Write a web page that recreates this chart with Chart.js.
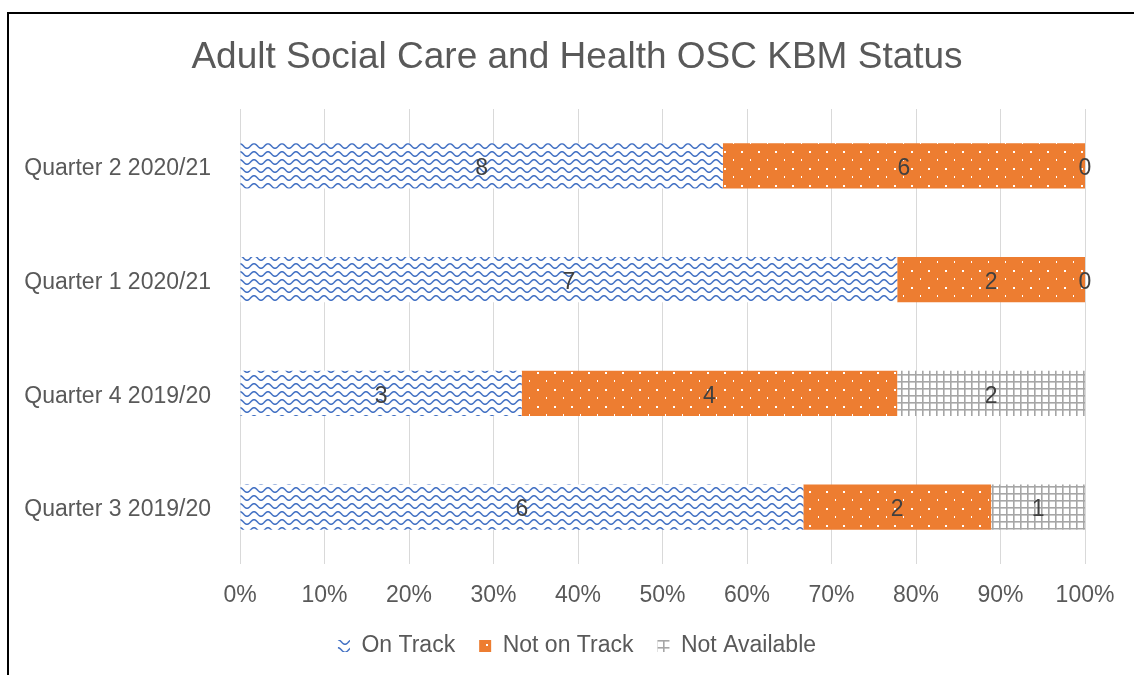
<!DOCTYPE html>
<html>
<head>
<meta charset="utf-8">
<script src="https://cdn.jsdelivr.net/npm/chart.js@4/dist/chart.umd.min.js"></script>
<style>
  html, body { margin: 0; padding: 0; background: #fff; overflow: hidden; }
  #frame { position: absolute; left: 7px; top: 12px; width: 1200px; height: 700px;
           border-left: 2px solid #000; border-top: 2px solid #000; }
  #wrap { position: absolute; left: 0; top: 0; width: 1136px; height: 661px; }
</style>
</head>
<body>
<div id="frame"><div id="wrap"><canvas id="c"></canvas></div></div>
<script>
const categories = ['Quarter 2 2020/21', 'Quarter 1 2020/21', 'Quarter 4 2019/20', 'Quarter 3 2019/20'];
const seriesNames = ['On Track', 'Not on Track', 'Not Available'];
const onTrack = [8, 7, 3, 6];
const notOnTrack = [6, 2, 4, 2];
const notAvailable = [0, 0, 2, 1];
const xTicks = [0, 10, 20, 30, 40, 50, 60, 70, 80, 90, 100];
const titleText = 'Adult Social Care and Health OSC KBM Status';

const counts = [onTrack, notOnTrack, notAvailable];
const totals = categories.map((_, j) => counts.reduce((s, arr) => s + arr[j], 0));
const pct = arr => arr.map((v, j) => v / totals[j] * 100);

function tile(w, h, draw) {
  const c = document.createElement('canvas');
  c.width = w; c.height = h;
  const g = c.getContext('2d');
  draw(g);
  return g.createPattern(c, 'repeat');
}
const wavePattern = tile(14, 8, g => {
  g.fillStyle = '#fff'; g.fillRect(0, 0, 14, 8);
  g.strokeStyle = '#4472C4'; g.lineWidth = 1.6;
  g.beginPath();
  for (let x = -1; x <= 15; x += 0.5) {
    const y = 4 + 2.3 * Math.cos(2 * Math.PI * x / 14);
    if (x === -1) g.moveTo(x, y); else g.lineTo(x, y);
  }
  g.stroke();
});
const dotPattern = tile(17, 17, g => {
  g.fillStyle = '#ED7D31'; g.fillRect(0, 0, 17, 17);
  g.fillStyle = '#fff';
  g.fillRect(1, 1, 2, 2);
  g.fillRect(10, 9, 1, 2);
});
const gridPattern = tile(7, 7, g => {
  g.fillStyle = '#fff'; g.fillRect(0, 0, 7, 7);
  g.fillStyle = '#A6A6A6';
  g.fillRect(0, 3, 7, 1.6);
  g.fillRect(3, 0, 1.6, 7);
});

const FONT = '"Liberation Sans", Arial, sans-serif';
const TXT = '#595959';
const LEG_PAD = 24;

const segLabels = {
  id: 'segLabels',
  afterDatasetsDraw(chart) {
    const ctx = chart.ctx;
    ctx.save();
    ctx.font = '23px ' + FONT;
    ctx.fillStyle = '#404040';
    ctx.textAlign = 'center';
    ctx.textBaseline = 'middle';
    chart.data.datasets.forEach((ds, i) => {
      const meta = chart.getDatasetMeta(i);
      meta.data.forEach((el, j) => {
        const p = el.getProps(['x', 'y', 'base'], true);
        ctx.fillText(String(counts[i][j]), (p.x + p.base) / 2, p.y + 3);
      });
    });
    ctx.restore();
  }
};

new Chart(document.getElementById('c'), {
  type: 'bar',
  data: {
    labels: categories,
    datasets: [
      { label: seriesNames[0], data: pct(onTrack), backgroundColor: wavePattern },
      { label: seriesNames[1], data: pct(notOnTrack), backgroundColor: dotPattern },
      { label: seriesNames[2], data: pct(notAvailable), backgroundColor: gridPattern }
    ].map(d => Object.assign(d, { borderWidth: 0, categoryPercentage: 1, barPercentage: 0.396 }))
  },
  options: {
    indexAxis: 'y',
    responsive: true,
    maintainAspectRatio: false,
    animation: false,
    layout: { padding: { left: 0, right: 0, top: 0, bottom: 7.5 } },
    scales: {
      x: {
        stacked: true, min: 0, max: 100,
        afterBuildTicks: s => { s.ticks = xTicks.map(v => ({ value: v })); },
        afterFit: s => { s.height = 70.5 - LEG_PAD; },
        grid: { color: '#D9D9D9', lineWidth: 1, drawTicks: false },
        border: { display: false },
        ticks: { padding: 18, color: TXT, font: { family: FONT, size: 23 }, callback: v => v + '%' }
      },
      y: {
        stacked: true,
        afterFit: s => { s.width = 231; },
        grid: { display: false },
        border: { display: false },
        ticks: { padding: 21, labelOffset: 3, color: TXT, font: { family: FONT, size: 23 } }
      },
      yR: {
        type: 'category', position: 'right', display: true,
        afterFit: s => { s.width = 60; },
        grid: { display: false }, border: { display: false }, ticks: { display: false }
      }
    },
    plugins: {
      title: {
        display: true, text: titleText, color: TXT,
        font: { family: FONT, size: 37, weight: 'normal' },
        padding: { top: 21.8, bottom: 28.8 }
      },
      legend: {
        display: true, position: 'bottom',
        labels: { boxWidth: 12, boxHeight: 12, padding: LEG_PAD, color: TXT, font: { family: FONT, size: 23 } }
      },
      tooltip: { enabled: false }
    }
  },
  plugins: [segLabels]
});
</script>
</body>
</html>
